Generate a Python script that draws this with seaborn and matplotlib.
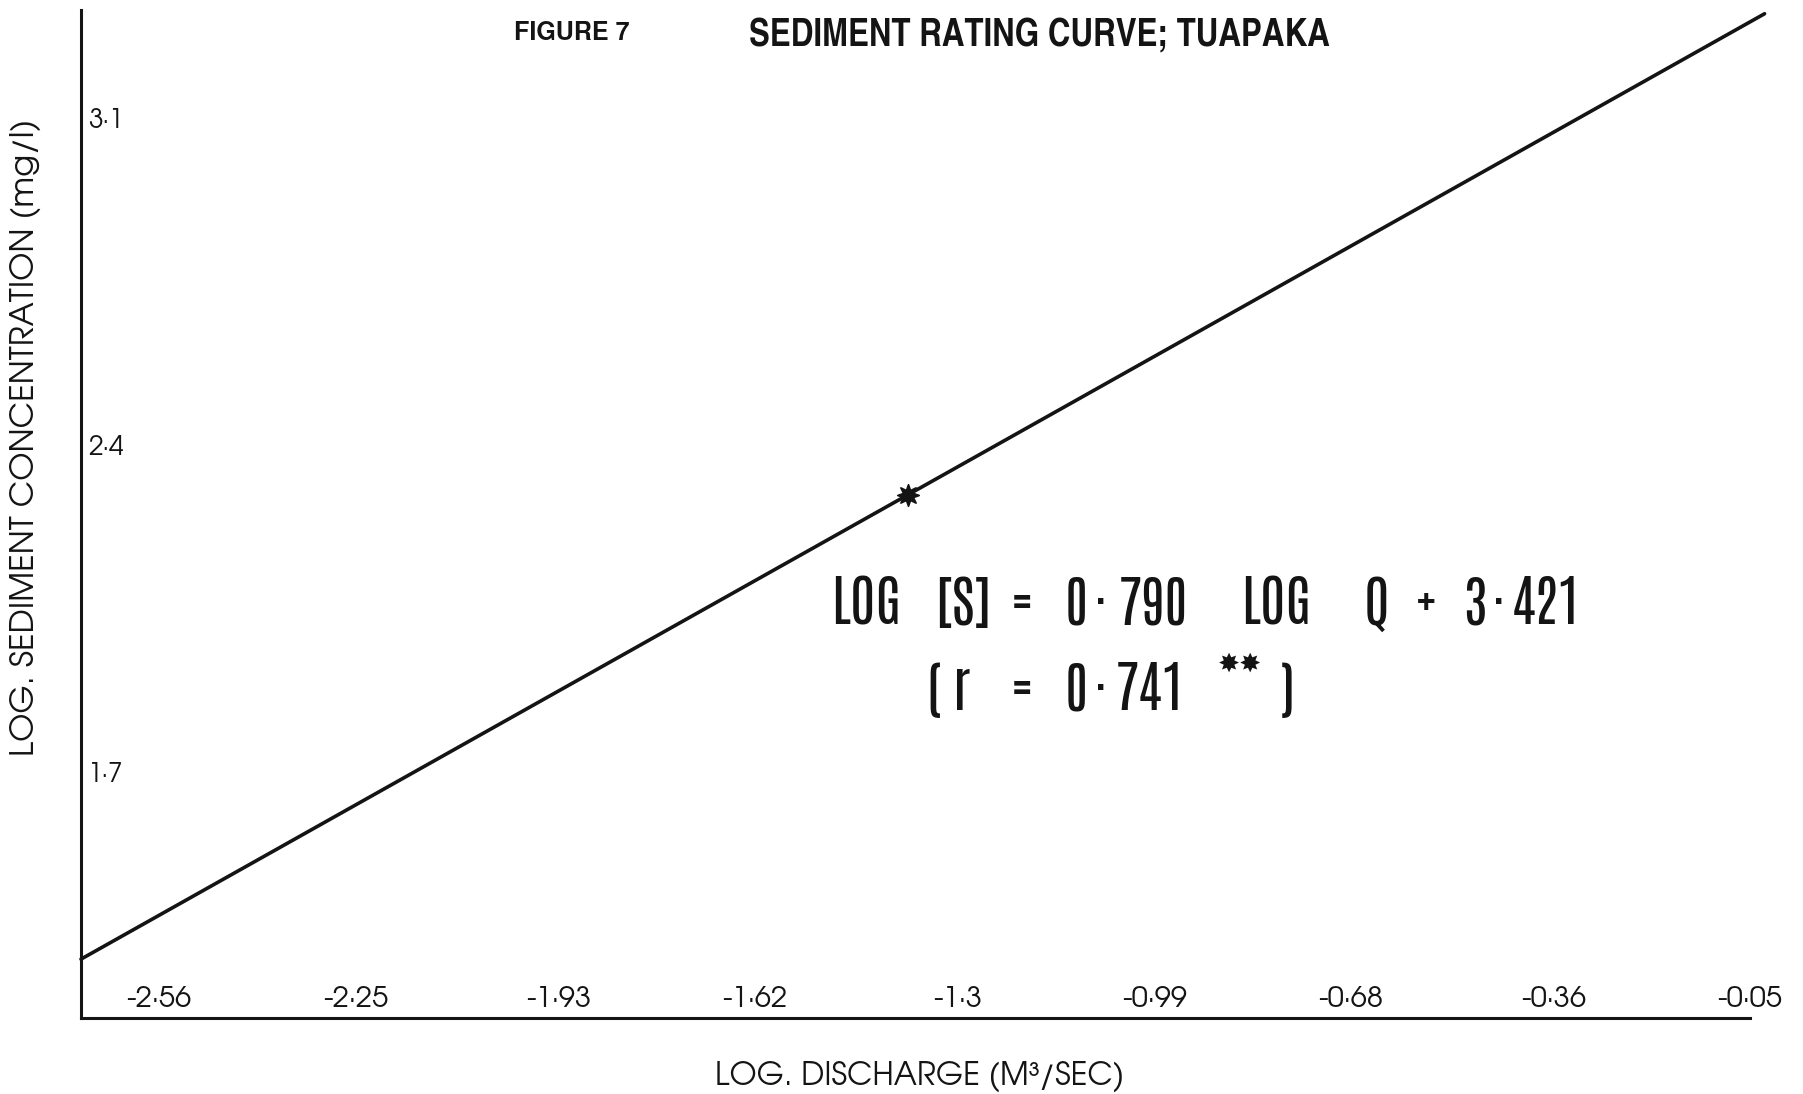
import matplotlib
matplotlib.use("Agg")
import matplotlib.pyplot as plt
import seaborn as sns
import pandas as pd

# ---- data ----
fit_x = [-2.683, -0.027]          # log discharge at the ends of the fitted line
fit_y = [1.299, 3.323]            # log sediment concentration at those ends
mean_x = [-1.379]                 # starred point on the line
mean_y = [2.293]

x_ticks = [-2.56, -2.25, -1.93, -1.62, -1.30, -0.99, -0.68, -0.36, -0.05]
x_tick_labels = ["-2·56", "-2·25", "-1·93", "-1·62", "-1·3", "-0·99", "-0·68", "-0·36", "-0·05"]
y_ticks = [1.7, 2.4, 3.1]
y_tick_labels = ["1·7", "2·4", "3·1"]

title_fig = "FIGURE 7"
title_main = "SEDIMENT RATING CURVE; TUAPAKA"
x_label = "LOG. DISCHARGE (M³/SEC)"
y_label = "LOG. SEDIMENT CONCENTRATION (mg/l)"
eq1_tokens = ["LOG", "[S]", "=", "0", "·", "790", "LOG", "Q", "+", "3", "·", "421"]
eq2_tokens = ["(", "r", "=", "0", "·", "741", ")"]
eq_stars = "✸✸"

# ---- layout (pixels in the 1803x1094 canvas) ----
eq1_left = [831, 935, 1012, 1065, 1094, 1119, 1241, 1364, 1417, 1463, 1492, 1512]
eq2_left = [926, 953, 1012, 1065, 1094, 1116, 1280]

sns.set_style("white")
gothic = ["TeX Gyre Adventor", "Questrial", "DejaVu Sans"]
heros_cn = ["TeX Gyre Heros Cn", "Roboto Condensed", "DejaVu Sans"]
heros = ["TeX Gyre Heros", "Liberation Sans", "DejaVu Sans"]
narrow = ["Antonio", "Roboto Condensed", "DejaVu Sans"]
plt.rcParams["font.family"] = gothic

W, H = 1803, 1094
INK = "#141414"
fig = plt.figure(figsize=(W / 100, H / 100), dpi=100)
ax = fig.add_axes([81 / W, 1 - 1018 / H, (1750 - 81) / W, (1018 - 10) / H])

line_df = pd.DataFrame({"q": fit_x, "s": fit_y})
pt_df = pd.DataFrame({"q": mean_x, "s": mean_y})
sns.lineplot(data=line_df, x="q", y="s", ax=ax, color=INK, linewidth=2.6,
             clip_on=False)
sns.scatterplot(data=pt_df, x="q", y="s", ax=ax, marker=(8, 1, 0), s=240,
                color=INK, edgecolor=INK, linewidth=1.2, zorder=5)

ax.set_xlim(-2.683, -0.05)
ax.set_ylim(1.173, 3.331)

for side in ["top", "right"]:
    ax.spines[side].set_visible(False)
for side in ["left", "bottom"]:
    ax.spines[side].set_color(INK)
    ax.spines[side].set_linewidth(2.2)

ax.set_xticks(x_ticks)
ax.set_xticklabels(x_tick_labels, fontsize=21, color=INK, va="bottom", family=gothic)
ax.set_yticks(y_ticks)
ax.set_yticklabels(y_tick_labels, fontsize=19, color=INK, ha="left", family=gothic)
ax.set_yticks([3.331], minor=True)
ax.tick_params(axis="x", direction="in", length=7, width=1.8, pad=-4, colors=INK)
ax.tick_params(axis="y", direction="in", length=8, width=1.8, pad=-5, colors=INK)
ax.tick_params(axis="y", which="minor", direction="in", length=8, width=1.8, colors=INK)

ax.set_xlabel("")
ax.set_ylabel("")

fig.text(920 / W, 1 - 1076 / H, x_label, ha="center", va="center",
         fontsize=22.5, color=INK, family=gothic)
fig.text(25 / W, 1 - 437 / H, y_label, ha="center", va="center", rotation=90,
         fontsize=23.5, color=INK, family=gothic)

fig.text(572 / W, 1 - 33 / H, title_fig, ha="center", va="center",
         fontsize=18, fontweight="bold", family=heros, color=INK)
fig.text(1039 / W, 1 - 36 / H, title_main, ha="center", va="center",
         fontsize=27.5, fontweight="bold", family=heros_cn, color=INK)

for tok, xl in zip(eq1_tokens, eq1_left):
    fig.text(xl / W, 1 - 604 / H, tok, ha="left", va="center",
             fontsize=40, family=narrow, color=INK)
for tok, xl in zip(eq2_tokens, eq2_left):
    fig.text(xl / W, 1 - 690 / H, tok, ha="left", va="center",
             fontsize=40, family=narrow, color=INK)
fig.text(1240 / W, 1 - 665 / H, eq_stars, ha="center", va="center",
         fontsize=19, family=["DejaVu Sans"], color=INK)

fig.savefig("out.png", dpi=100, facecolor="white")
